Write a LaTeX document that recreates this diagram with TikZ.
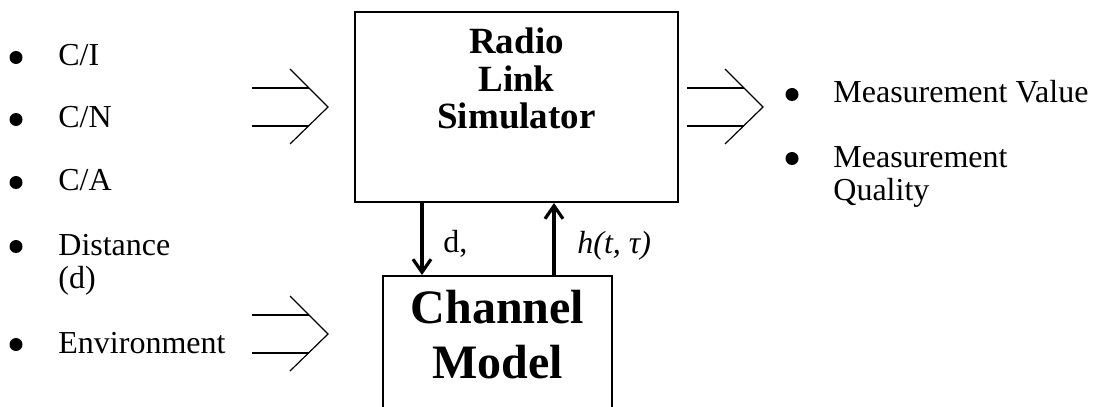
\documentclass[tikz,border=0pt]{standalone}
\usepackage{fontspec}
\setmainfont{Liberation Serif}
\usepackage{tikz}
\usetikzlibrary{arrows.meta,positioning,calc}

\begin{document}
\begin{tikzpicture}[
    x=0.5pt, y=-0.5pt,
    box/.style={rectangle, draw, line width=1pt, inner sep=0pt},
    title/.style={align=center, inner sep=0pt, font=\fontsize{18.5}{18.75}\selectfont\bfseries},
    bigtitle/.style={align=center, inner sep=0pt, font=\fontsize{24}{27.5}\selectfont\bfseries},
    item/.style={anchor=base west, align=left, inner sep=0pt, font=\fontsize{16}{16.5}\selectfont},
    dot/.style={circle, fill, inner sep=0pt, minimum size=6.5pt},
    link/.style={line width=1.8pt, -{Straight Barb[length=6.5pt,width=9pt,line width=1.6pt]}},
    hollow/.pic={
        \draw[line width=0.6pt] (0,-19) -- (57,-19) (0,19) -- (57,19);
        \draw[line width=0.6pt] (38,-38) -- (76,0) -- (38,37);
    }
]
    \useasboundingbox (0,0) rectangle (1095,406);
    \clip (0,0) rectangle (1095,406);

    % Input parameters (text y = last baseline, bullet y = first baseline)
    \foreach \txt/\yy/\by/\nm in {{C/I}/66/66/ci, {C/N}/128/128/cn, {C/A}/191/191/ca, {Distance\\(d)}/288/255/dist, {Environment}/353/353/env} {
        \node[dot] (dot-\nm) at (16,\by-8.5) {};
        \node[item] (\nm) at (58,\yy) {\txt};
    }

    % Outputs
    \foreach \txt/\yy/\by/\nm in {{Measurement Value}/103/103/mval, {Measurement\\Quality}/200/167/mqual} {
        \node[dot] (dot-\nm) at (792,\by-8.5) {};
        \node[item] (\nm) at (833,\yy) {\txt};
    }

    % Simulator
    \node[box, minimum width=161.5pt, minimum height=95pt] (sim) at (516.5,107) {};
    \node[title] (simtitle) at (516.5,78.5) {Radio\\Link\\Simulator};

    % Channel model
    \node[box, minimum width=114.5pt, minimum height=82pt] (chan) at (497.5,358) {};
    \node[bigtitle] (chantitle) at (497.5,335) {Channel\\Model};

    % Broad arrows
    \coordinate (inarrow) at (252,107);
    \coordinate (outarrow) at (687,107);
    \coordinate (envarrow) at (252,334);
    \pic at (inarrow) {hollow};
    \pic at (outarrow) {hollow};
    \pic at (envarrow) {hollow};

    % Links between simulator and channel
    \draw[link] ([xshift=-47.25pt]sim.south) -- ([xshift=-37.75pt]chan.north);
    \draw[link] ([xshift=28.25pt]chan.north) -- ([xshift=18.75pt]sim.south);
    \node[item] (dlabel) at (443,252) {d,};
    \node[item, font=\fontsize{16}{16.5}\selectfont\itshape] (hlabel) at (577,253) {h(t, τ)};
\end{tikzpicture}
\end{document}
